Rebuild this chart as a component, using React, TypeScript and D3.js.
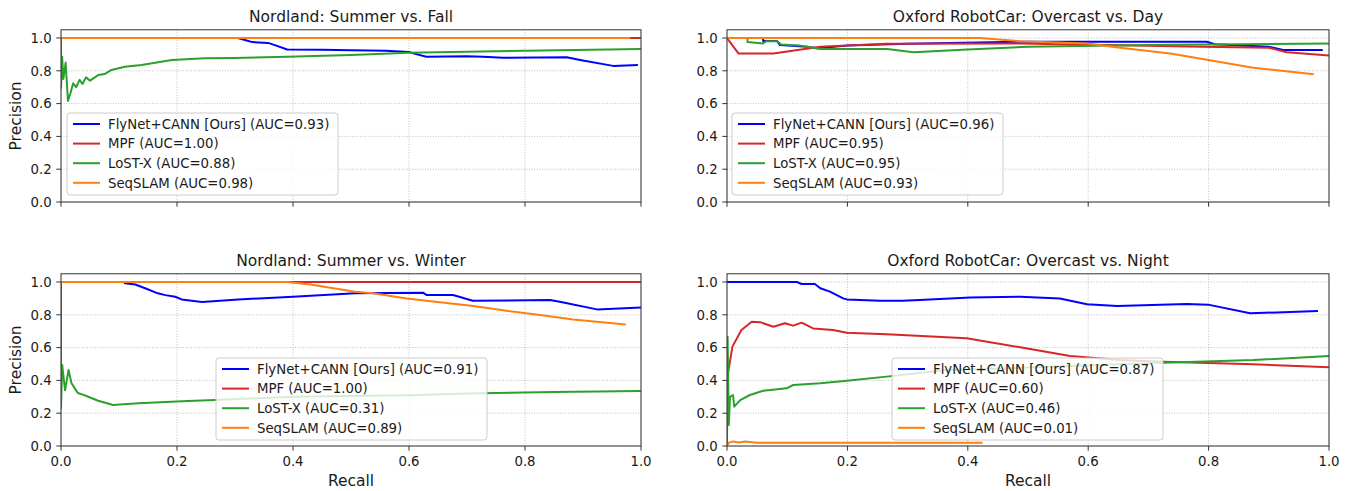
import React from "react";
import * as d3 from "d3";

// ---------- DATA ----------
const seriesNames = ["FlyNet+CANN [Ours]", "MPF", "LoST-X", "SeqSLAM"];
const xTicks = [0, 0.2, 0.4, 0.6, 0.8, 1.0];
const yTicks = [0, 0.2, 0.4, 0.6, 0.8, 1.0];

const titles = [
  "Nordland: Summer vs. Fall",
  "Oxford RobotCar: Overcast vs. Day",
  "Nordland: Summer vs. Winter",
  "Oxford RobotCar: Overcast vs. Night",
];

const aucFall = ["0.93", "1.00", "0.88", "0.98"];
const aucDay = ["0.96", "0.95", "0.95", "0.93"];
const aucWinter = ["0.91", "1.00", "0.31", "0.89"];
const aucNight = ["0.87", "0.60", "0.46", "0.01"];

// [recall, precision]
const fallFlyNet = [[0, 1], [0.305, 1], [0.32, 0.985], [0.33, 0.975], [0.357, 0.97], [0.37, 0.955], [0.39, 0.93], [0.45, 0.928], [0.5, 0.925], [0.56, 0.922], [0.6, 0.915], [0.614, 0.9], [0.63, 0.886], [0.7, 0.888], [0.728, 0.885], [0.762, 0.88], [0.872, 0.882], [0.895, 0.866], [0.952, 0.83], [0.993, 0.835]];
const fallMPF = [[0, 1], [1, 1]];
const fallLoST = [[0, 1], [0, 0.695], [0.002, 0.886], [0.004, 0.75], [0.008, 0.85], [0.012, 0.616], [0.016, 0.66], [0.021, 0.724], [0.026, 0.7], [0.032, 0.745], [0.037, 0.72], [0.043, 0.76], [0.05, 0.74], [0.064, 0.774], [0.075, 0.78], [0.087, 0.805], [0.11, 0.825], [0.139, 0.835], [0.191, 0.866], [0.248, 0.876], [0.3, 0.878], [0.39, 0.886], [0.5, 0.896], [0.6, 0.91], [0.8, 0.922], [1.0, 0.933]];
const fallSeq = [[0, 1], [0.98, 1]];

const dayFlyNet = [[0, 1], [0.06, 1], [0.06, 0.982], [0.083, 0.982], [0.088, 0.957], [0.133, 0.947], [0.15, 0.937], [0.2, 0.955], [0.3, 0.965], [0.487, 0.977], [0.797, 0.977], [0.81, 0.962], [0.9, 0.947], [0.924, 0.927], [0.988, 0.927]];
const dayMPF = [[0, 1], [0.019, 0.906], [0.077, 0.906], [0.155, 0.947], [0.265, 0.965], [0.487, 0.967], [0.79, 0.947], [0.9, 0.941], [0.93, 0.913], [1.0, 0.893]];
const dayLoST = [[0, 1], [0.034, 1], [0.034, 0.975], [0.06, 0.967], [0.065, 0.98], [0.083, 0.98], [0.09, 0.96], [0.12, 0.955], [0.155, 0.933], [0.266, 0.933], [0.31, 0.913], [0.4, 0.93], [0.5, 0.947], [0.7, 0.957], [1.0, 0.967]];
const daySeq = [[0, 1], [0.42, 1], [0.487, 0.98], [0.598, 0.967], [0.653, 0.941], [0.736, 0.906], [0.79, 0.872], [0.874, 0.819], [0.973, 0.78]];

const winterFlyNet = [[0, 1], [0.11, 1], [0.11, 0.992], [0.128, 0.985], [0.145, 0.962], [0.167, 0.931], [0.18, 0.92], [0.197, 0.91], [0.208, 0.894], [0.243, 0.878], [0.306, 0.894], [0.4, 0.91], [0.507, 0.931], [0.624, 0.935], [0.63, 0.921], [0.676, 0.921], [0.71, 0.886], [0.843, 0.89], [0.86, 0.88], [0.924, 0.833], [1.0, 0.845]];
const winterMPF = [[0, 1], [1, 1]];
const winterLoST = [[0, 1], [0, 0.23], [0.002, 0.494], [0.007, 0.34], [0.013, 0.463], [0.018, 0.384], [0.024, 0.35], [0.029, 0.323], [0.04, 0.31], [0.047, 0.3], [0.064, 0.276], [0.09, 0.25], [0.133, 0.26], [0.219, 0.274], [0.265, 0.28], [0.4, 0.3], [0.6, 0.31], [0.7, 0.32], [0.85, 0.33], [1.0, 0.335]];
const winterSeq = [[0, 1], [0.39, 1], [0.43, 0.985], [0.507, 0.94], [0.538, 0.931], [0.596, 0.9], [0.653, 0.876], [0.711, 0.854], [0.768, 0.825], [0.826, 0.799], [0.883, 0.772], [0.972, 0.742]];

const nightFlyNet = [[0, 1], [0.116, 1], [0.124, 0.988], [0.146, 0.988], [0.155, 0.962], [0.171, 0.941], [0.193, 0.9], [0.199, 0.894], [0.254, 0.886], [0.292, 0.886], [0.32, 0.89], [0.404, 0.906], [0.487, 0.91], [0.553, 0.9], [0.598, 0.864], [0.648, 0.854], [0.764, 0.866], [0.799, 0.862], [0.869, 0.809], [0.98, 0.823]];
const nightMPF = [[0, 0.33], [0.002, 0.45], [0.009, 0.606], [0.024, 0.707], [0.041, 0.758], [0.055, 0.755], [0.077, 0.727], [0.096, 0.748], [0.11, 0.734], [0.124, 0.752], [0.143, 0.717], [0.176, 0.707], [0.199, 0.691], [0.265, 0.681], [0.398, 0.657], [0.487, 0.602], [0.57, 0.549], [0.653, 0.524], [0.725, 0.514], [0.874, 0.498], [1.0, 0.48]];
const nightLoST = [[0, 0], [0.001, 0.667], [0.003, 0.128], [0.005, 0.3], [0.01, 0.311], [0.012, 0.24], [0.022, 0.28], [0.038, 0.311], [0.06, 0.337], [0.099, 0.352], [0.11, 0.372], [0.155, 0.382], [0.199, 0.398], [0.265, 0.423], [0.365, 0.463], [0.498, 0.478], [0.725, 0.508], [0.874, 0.524], [1.0, 0.549]];
const nightSeq = [[0, 0], [0.003, 0.02], [0.01, 0.028], [0.02, 0.022], [0.03, 0.027], [0.05, 0.02], [0.423, 0.02]];

// ---------- STYLE / LAYOUT ----------
const COLORS = ["#0000ff", "#d62728", "#2ca02c", "#ff7f0e"];
const FONT = "'DejaVu Sans', sans-serif";
const TICK_FS = 13.3;
const LEGEND_FS = 13.3;
const TITLE_FS = 15.5;
const LABEL_FS = 15.5;

const cols = [{ x0: 61, x1: 641 }, { x0: 727, x1: 1329 }];
const rows = [{ y0: 202 }, { y0: 446 }];
const PX_PER_UNIT = 164;

const panels = [
  { title: titles[0], col: 0, row: 0, data: [fallFlyNet, fallMPF, fallLoST, fallSeq], auc: aucFall, legend: { x: 67, y: 113 } },
  { title: titles[1], col: 1, row: 0, data: [dayFlyNet, dayMPF, dayLoST, daySeq], auc: aucDay, legend: { x: 732, y: 113 } },
  { title: titles[2], col: 0, row: 1, data: [winterFlyNet, winterMPF, winterLoST, winterSeq], auc: aucWinter, legend: { x: 216, y: 358 } },
  { title: titles[3], col: 1, row: 1, data: [nightFlyNet, nightMPF, nightLoST, nightSeq], auc: aucNight, legend: { x: 892, y: 358 } },
];

function Panel({ p }) {
  const { x0, x1 } = cols[p.col];
  const yb = rows[p.row].y0;
  const x = d3.scaleLinear().domain([0, 1]).range([x0, x1]);
  const y = d3.scaleLinear().domain([0, 1.05]).range([yb, yb - 1.05 * PX_PER_UNIT]);
  const top = y(1.05);
  const line = d3.line().x((d) => x(d[0])).y((d) => y(d[1]));
  const clipId = `clip-${p.col}-${p.row}`;
  const showXLabels = p.row === 1;
  const lw = 271;
  const lh = 82;
  return (
    <g>
      <defs>
        <clipPath id={clipId}>
          <rect x={x0} y={top} width={x1 - x0} height={yb - top} />
        </clipPath>
      </defs>
      {xTicks.map((t) => (
        <line key={"gx" + t} x1={x(t)} x2={x(t)} y1={top} y2={yb} stroke="#b0b0b0" strokeWidth={0.8} strokeDasharray="1,1.6" />
      ))}
      {yTicks.map((t) => (
        <line key={"gy" + t} x1={x0} x2={x1} y1={y(t)} y2={y(t)} stroke="#b0b0b0" strokeWidth={0.8} strokeDasharray="1,1.6" />
      ))}
      <g clipPath={`url(#${clipId})`}>
        {p.data.map((s, i) => (
          <path key={i} d={line(s)} fill="none" stroke={COLORS[i]} strokeWidth={2} strokeLinejoin="round" strokeLinecap="square" />
        ))}
      </g>
      <rect x={x0} y={top} width={x1 - x0} height={yb - top} fill="none" stroke="#333" strokeWidth={1} />
      {xTicks.map((t) => (
        <g key={"tx" + t}>
          <line x1={x(t)} x2={x(t)} y1={yb} y2={yb + 4.7} stroke="#333" strokeWidth={1} />
          {showXLabels && (
            <text x={x(t)} y={yb + 19.8} textAnchor="middle" fontSize={TICK_FS} fontFamily={FONT} fill="#1a1a1a">
              {t.toFixed(1)}
            </text>
          )}
        </g>
      ))}
      {yTicks.map((t) => (
        <g key={"ty" + t}>
          <line x1={x0 - 4.7} x2={x0} y1={y(t)} y2={y(t)} stroke="#333" strokeWidth={1} />
          <text x={x0 - 9.3} y={y(t) + 4.8} textAnchor="end" fontSize={TICK_FS} fontFamily={FONT} fill="#1a1a1a">
            {t.toFixed(1)}
          </text>
        </g>
      ))}
      <text x={(x0 + x1) / 2} y={top - 8} textAnchor="middle" fontSize={TITLE_FS} fontFamily={FONT} fill="#1a1a1a">
        {p.title}
      </text>
      {p.col === 0 && (
        <text transform={`translate(21,${(top + yb) / 2}) rotate(-90)`} textAnchor="middle" fontSize={LABEL_FS} fontFamily={FONT} fill="#1a1a1a">
          Precision
        </text>
      )}
      {p.row === 1 && (
        <text x={(x0 + x1) / 2} y={486} textAnchor="middle" fontSize={LABEL_FS} fontFamily={FONT} fill="#1a1a1a">
          Recall
        </text>
      )}
      <g>
        <rect x={p.legend.x} y={p.legend.y} width={lw} height={lh} rx={3} fill="#fff" fillOpacity={0.8} stroke="#cccccc" strokeWidth={1} />
        {seriesNames.map((n, i) => {
          const cy = p.legend.y + 11 + i * 19.6;
          return (
            <g key={n}>
              <line x1={p.legend.x + 6} x2={p.legend.x + 33} y1={cy} y2={cy} stroke={COLORS[i]} strokeWidth={2} />
              <text x={p.legend.x + 41} y={cy + 4.7} fontSize={LEGEND_FS} fontFamily={FONT} fill="#1a1a1a">
                {`${n} (AUC=${p.auc[i]})`}
              </text>
            </g>
          );
        })}
      </g>
    </g>
  );
}

export default function App() {
  return (
    <svg width={1351} height={491} style={{ position: "absolute", left: 0, top: 0, background: "#fff" }}>
      <rect x={0} y={0} width={1351} height={491} fill="#fff" />
      {panels.map((p, i) => (
        <Panel key={i} p={p} />
      ))}
    </svg>
  );
}
